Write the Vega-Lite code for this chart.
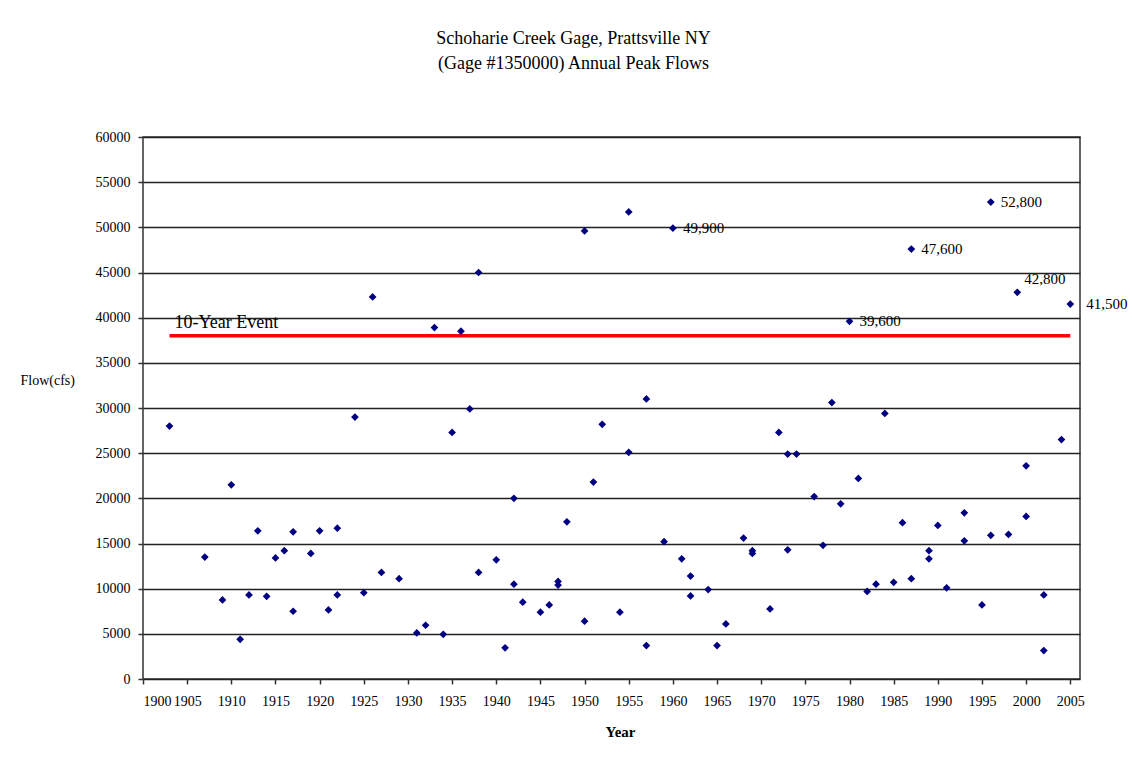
{
  "$schema": "https://vega.github.io/schema/vega-lite/v6.json",
  "width": 937,
  "height": 542,
  "autosize": "none",
  "padding": {"left": 143, "top": 137, "right": 52, "bottom": 95},
  "background": "white",
  "config": {
    "font": "Liberation Serif",
    "view": {"stroke": "#333333", "strokeWidth": 1.5},
    "axis": {"labelFont": "Liberation Serif", "titleFont": "Liberation Serif", "labelFontSize": 14, "labelColor": "#000000", "tickColor": "#333333", "tickWidth": 1.5, "domain": false}
  },
  "title": {
    "text": ["Schoharie Creek Gage, Prattsville NY", "(Gage #1350000) Annual Peak Flows"],
    "font": "Liberation Serif",
    "fontSize": 18,
    "fontWeight": "normal",
    "color": "#000000",
    "lineHeight": 25,
    "anchor": "middle",
    "dx": -38,
    "offset": 57
  },
  "datasets": {
    "peaks": [
      {"year": 1903, "flow": 28000},
      {"year": 1907, "flow": 13500},
      {"year": 1909, "flow": 8750},
      {"year": 1910, "flow": 21500},
      {"year": 1911, "flow": 4400},
      {"year": 1912, "flow": 9300},
      {"year": 1913, "flow": 16400},
      {"year": 1914, "flow": 9150},
      {"year": 1915, "flow": 13400},
      {"year": 1916, "flow": 14200},
      {"year": 1917, "flow": 16300},
      {"year": 1917, "flow": 7500},
      {"year": 1919, "flow": 13900},
      {"year": 1920, "flow": 16400},
      {"year": 1921, "flow": 7650},
      {"year": 1922, "flow": 16700},
      {"year": 1922, "flow": 9300},
      {"year": 1924, "flow": 29000},
      {"year": 1925, "flow": 9550},
      {"year": 1926, "flow": 42300},
      {"year": 1927, "flow": 11800},
      {"year": 1929, "flow": 11100},
      {"year": 1931, "flow": 5100},
      {"year": 1932, "flow": 5950},
      {"year": 1933, "flow": 38900},
      {"year": 1934, "flow": 4950},
      {"year": 1935, "flow": 27300},
      {"year": 1936, "flow": 38500},
      {"year": 1937, "flow": 29900},
      {"year": 1938, "flow": 45000},
      {"year": 1938, "flow": 11800},
      {"year": 1940, "flow": 13200},
      {"year": 1941, "flow": 3450},
      {"year": 1942, "flow": 20000},
      {"year": 1942, "flow": 10500},
      {"year": 1943, "flow": 8500},
      {"year": 1945, "flow": 7400},
      {"year": 1946, "flow": 8200},
      {"year": 1947, "flow": 10800},
      {"year": 1947, "flow": 10400},
      {"year": 1948, "flow": 17400},
      {"year": 1950, "flow": 49600},
      {"year": 1950, "flow": 6400},
      {"year": 1951, "flow": 21800},
      {"year": 1952, "flow": 28200},
      {"year": 1954, "flow": 7400},
      {"year": 1955, "flow": 51700},
      {"year": 1955, "flow": 25100},
      {"year": 1957, "flow": 31000},
      {"year": 1957, "flow": 3700},
      {"year": 1959, "flow": 15200},
      {"year": 1960, "flow": 49900, "label": "49,900"},
      {"year": 1961, "flow": 13300},
      {"year": 1962, "flow": 11400},
      {"year": 1962, "flow": 9200},
      {"year": 1964, "flow": 9900},
      {"year": 1965, "flow": 3700},
      {"year": 1966, "flow": 6100},
      {"year": 1968, "flow": 15600},
      {"year": 1969, "flow": 14200},
      {"year": 1969, "flow": 13900},
      {"year": 1971, "flow": 7750},
      {"year": 1972, "flow": 27300},
      {"year": 1973, "flow": 24900},
      {"year": 1973, "flow": 14300},
      {"year": 1974, "flow": 24900},
      {"year": 1976, "flow": 20200},
      {"year": 1977, "flow": 14800},
      {"year": 1978, "flow": 30600},
      {"year": 1979, "flow": 19400},
      {"year": 1980, "flow": 39600, "label": "39,600"},
      {"year": 1981, "flow": 22200},
      {"year": 1982, "flow": 9700},
      {"year": 1983, "flow": 10500},
      {"year": 1984, "flow": 29400},
      {"year": 1985, "flow": 10700},
      {"year": 1986, "flow": 17300},
      {"year": 1987, "flow": 47600, "label": "47,600"},
      {"year": 1987, "flow": 11100},
      {"year": 1989, "flow": 14200},
      {"year": 1989, "flow": 13300},
      {"year": 1990, "flow": 17000},
      {"year": 1991, "flow": 10100},
      {"year": 1993, "flow": 18400},
      {"year": 1993, "flow": 15300},
      {"year": 1995, "flow": 8200},
      {"year": 1996, "flow": 52800, "label": "52,800"},
      {"year": 1996, "flow": 15900},
      {"year": 1998, "flow": 16000},
      {"year": 1999, "flow": 42800, "label": "42,800"},
      {"year": 2000, "flow": 23600},
      {"year": 2000, "flow": 18000},
      {"year": 2002, "flow": 9300},
      {"year": 2002, "flow": 3150},
      {"year": 2004, "flow": 26500},
      {"year": 2005, "flow": 41500, "label": "41,500"}
    ],
    "event": [
      {"start": 1903, "end": 2005, "flow": 38000, "label": "10-Year Event"}
    ]
  },
  "encoding": {
    "x": {
      "field": "year",
      "type": "quantitative",
      "scale": {"domain": [1900, 2006.1], "nice": false, "zero": false},
      "axis": {
        "title": "Year",
        "values": [1900, 1905, 1910, 1915, 1920, 1925, 1930, 1935, 1940, 1945, 1950, 1955, 1960, 1965, 1970, 1975, 1980, 1985, 1990, 1995, 2000, 2005],
        "format": "d",
        "grid": false,
        "tickSize": 5,
        "labelPadding": 10,
        "titleFontSize": 15,
        "titleFontWeight": "bold",
        "titleColor": "#000000",
        "titleY": 52,
        "titleBaseline": "middle",
        "titleX": 477
      }
    },
    "y": {
      "field": "flow",
      "type": "quantitative",
      "scale": {"domain": [0, 60000], "nice": false},
      "axis": {
        "title": "Flow(cfs)",
        "values": [0, 5000, 10000, 15000, 20000, 25000, 30000, 35000, 40000, 45000, 50000, 55000, 60000],
        "format": "d",
        "grid": true,
        "gridColor": "#222222",
        "gridOpacity": 1,
        "gridWidth": 1.3,
        "tickSize": 5,
        "labelPadding": 8,
        "titleAngle": 0,
        "titleFontSize": 14,
        "titleFontWeight": "normal",
        "titleColor": "#000000",
        "titleX": -123,
        "titleY": 243,
        "titleAlign": "left",
        "titleBaseline": "middle"
      }
    }
  },
  "layer": [
    {
      "data": {"name": "event"},
      "mark": {"type": "rule", "color": "#ff0000", "strokeWidth": 3.5},
      "encoding": {
        "x": {"field": "start", "type": "quantitative"},
        "x2": {"field": "end"},
        "y": {"field": "flow", "type": "quantitative"}
      }
    },
    {
      "data": {"name": "event"},
      "mark": {"type": "text", "align": "left", "baseline": "alphabetic", "dx": 5, "dy": -8, "fontSize": 18, "font": "Liberation Serif", "color": "#000000"},
      "encoding": {
        "x": {"field": "start", "type": "quantitative"},
        "y": {"field": "flow", "type": "quantitative"},
        "text": {"field": "label"}
      }
    },
    {
      "data": {"name": "peaks"},
      "mark": {"type": "point", "shape": "diamond", "filled": true, "color": "#000080", "size": 60, "opacity": 1}
    },
    {
      "data": {"name": "peaks"},
      "transform": [{"filter": "datum.label && datum.year != 1999 && datum.year != 2005"}],
      "mark": {"type": "text", "align": "left", "baseline": "middle", "dx": 10, "fontSize": 15, "font": "Liberation Serif", "color": "#000000"},
      "encoding": {"text": {"field": "label"}}
    },
    {
      "data": {"name": "peaks"},
      "transform": [{"filter": "datum.year == 1999 && datum.label"}],
      "mark": {"type": "text", "align": "left", "baseline": "middle", "dx": 7, "dy": -13, "fontSize": 15, "font": "Liberation Serif", "color": "#000000"},
      "encoding": {"text": {"field": "label"}}
    },
    {
      "data": {"name": "peaks"},
      "transform": [{"filter": "datum.year == 2005 && datum.label"}],
      "mark": {"type": "text", "align": "left", "baseline": "middle", "dx": 16, "fontSize": 15, "font": "Liberation Serif", "color": "#000000", "clip": false},
      "encoding": {"text": {"field": "label"}}
    }
  ]
}
